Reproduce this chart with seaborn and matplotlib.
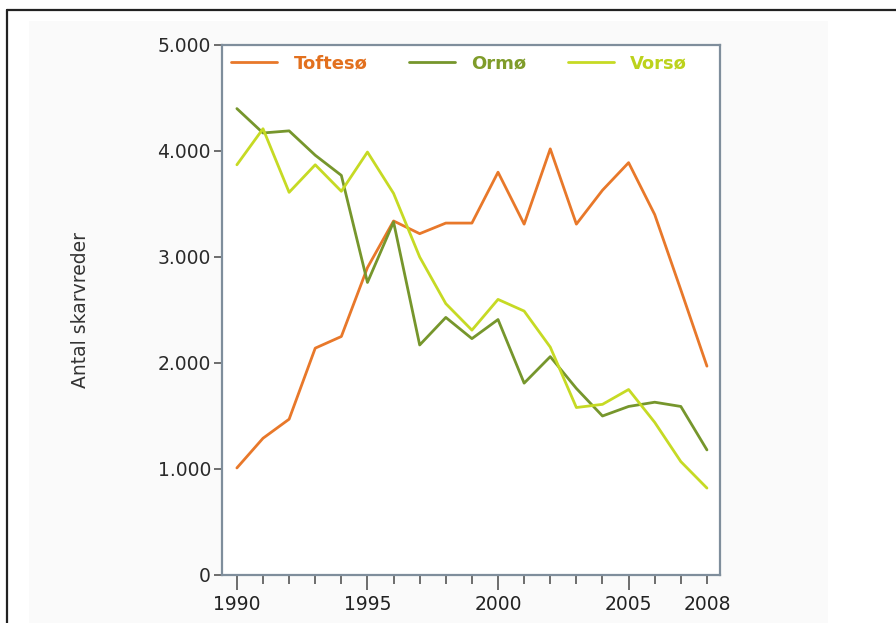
import matplotlib
matplotlib.use("Agg")
import matplotlib.pyplot as plt
import seaborn as sns
import pandas as pd
from matplotlib.lines import Line2D
from matplotlib.patches import Rectangle
from matplotlib.ticker import FixedLocator, FixedFormatter, FuncFormatter

# -----------------------------
# Data
# -----------------------------
years = list(range(1990, 2009))
toftesoe = [1010, 1290, 1470, 2140, 2250, 2900, 3340, 3220, 3320, 3320,
            3800, 3310, 4020, 3310, 3630, 3890, 3400, 2690, 1970]
ormoe = [4400, 4170, 4190, 3960, 3770, 2760, 3330, 2170, 2430, 2230,
         2410, 1810, 2060, 1760, 1500, 1590, 1630, 1590, 1180]
vorsoe = [3870, 4210, 3610, 3870, 3620, 3990, 3600, 3000, 2560, 2310,
          2600, 2490, 2150, 1580, 1610, 1750, 1440, 1070, 820]

series_names = ["Toftesø", "Ormø", "Vorsø"]
line_colors = ["#e8782a", "#76962c", "#c6da24"]
text_colors = ["#e2701e", "#7f9c2a", "#bcd21c"]
x_labels = ["1990", "1995", "2000", "2005", "2008"]

df = pd.DataFrame({
    "year": years * 3,
    "value": toftesoe + ormoe + vorsoe,
    "site": [series_names[0]] * 19 + [series_names[1]] * 19 + [series_names[2]] * 19,
})

# -----------------------------
# Figure
# -----------------------------
sns.set_style("white")
plt.rcParams["font.family"] = ["DejaVu Sans"]

fig = plt.figure(figsize=(8.96, 6.23), dpi=100)
fig.patch.set_facecolor("white")

# light panel and dark frame behind the chart
fig.add_artist(Rectangle((29 / 896, 0), 799 / 896, 602 / 623,
                         transform=fig.transFigure, facecolor="#fafafa",
                         edgecolor="none", zorder=-5))
fig.add_artist(Line2D([7 / 896, 1], [1 - 9.5 / 623, 1 - 9.5 / 623],
                      transform=fig.transFigure, color="#222222", lw=1.6))
fig.add_artist(Line2D([7 / 896, 7 / 896], [0, 1 - 9.5 / 623],
                      transform=fig.transFigure, color="#222222", lw=1.6))

ax = fig.add_axes([222 / 896, 1 - 575 / 623, 498 / 896, 530 / 623])
ax.set_facecolor("white")

sns.lineplot(data=df, x="year", y="value", hue="site", palette=line_colors,
             hue_order=series_names, linewidth=2.0, ax=ax, legend=False)

ax.set_xlim(1989.43, 2008.5)
ax.set_ylim(0, 5000)

# y axis
ax.set_yticks([0, 1000, 2000, 3000, 4000, 5000])
ax.yaxis.set_major_formatter(FuncFormatter(lambda v, p: f"{int(v):,}".replace(",", ".")))
ax.tick_params(axis="y", direction="out", length=6, width=1.2, color="#555555",
               labelsize=13.5, labelcolor="#2a2a2a", pad=2, left=True)

# x axis: long ticks on 1990-2005, short ticks every year, label 2008 on short tick
ax.xaxis.set_major_locator(FixedLocator([1990, 1995, 2000, 2005]))
ax.xaxis.set_major_formatter(FixedFormatter(x_labels[:4]))
ax.xaxis.set_minor_locator(FixedLocator([y for y in years if y not in (1990, 1995, 2000, 2005)]))
ax.xaxis.set_minor_formatter(FuncFormatter(lambda v, p: x_labels[4] if int(round(v)) == 2008 else ""))
ax.tick_params(axis="x", which="major", direction="out", length=11, width=1.2,
               color="#555555", labelsize=13.5, labelcolor="#222222", pad=3.5, bottom=True)
ax.tick_params(axis="x", which="minor", direction="out", length=6.5, width=1.2,
               color="#555555", labelsize=13.5, labelcolor="#222222", pad=8.0, bottom=True)

for s in ax.spines.values():
    s.set_color("#7f8e9c")
    s.set_linewidth(1.6)

ax.set_xlabel("")
ax.set_ylabel("Antal skarvreder", fontsize=13.5, color="#333333")
ax.yaxis.set_label_coords(-0.265, 0.5)

# legend: coloured bold labels in one row
handles = [Line2D([], [], color=c, lw=2.0) for c in line_colors]
leg = ax.legend(handles, series_names, loc="upper left", ncol=3, frameon=False,
                bbox_to_anchor=(0.0, 1.0), handlelength=2.55, handletextpad=0.89,
                columnspacing=2.3, borderaxespad=0.12,
                prop={"weight": "bold", "size": 13})
for txt, c in zip(leg.get_texts(), text_colors):
    txt.set_color(c)

plt.savefig("out.png", dpi=100)
